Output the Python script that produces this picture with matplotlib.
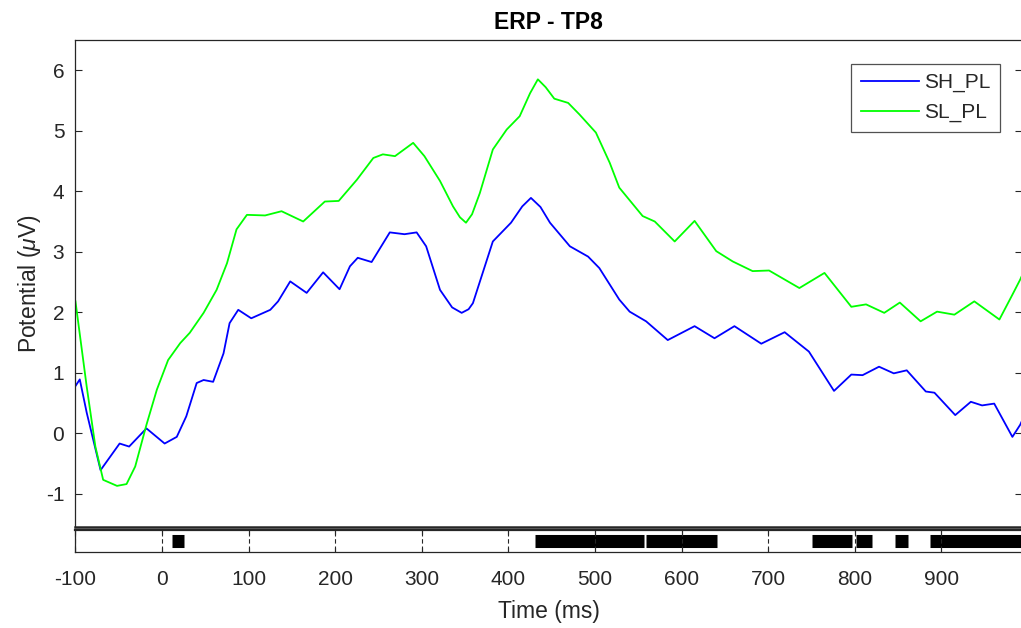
import numpy as np
import matplotlib
matplotlib.use("Agg")
import matplotlib.pyplot as plt

plt.rcParams["font.family"] = ["Liberation Sans", "DejaVu Sans"]
plt.rcParams["mathtext.fontset"] = "custom"
plt.rcParams["mathtext.rm"] = "Liberation Sans"
plt.rcParams["mathtext.it"] = "Liberation Sans:italic"
plt.rcParams["axes.unicode_minus"] = False

# ERP waveforms (time in ms, potential in uV)
t_sh = [-100, -95, -87, -71, -60, -49, -38, -18, 3, 17, 28, 40, 48, 59, 71, 78, 88, 103,
        125, 134, 148, 167, 186, 205, 217, 226, 242, 263, 280, 294, 305, 321, 335, 346, 354,
        359, 382, 403, 416, 426, 437, 448, 471, 492, 505, 528, 540, 559, 584, 615, 638, 661,
        692, 719, 747, 776, 796, 809, 828, 845, 860, 882, 892, 916, 934, 947, 961, 982, 991,
        996]
v_sh = [0.78, 0.89, 0.34, -0.61, -0.39, -0.17, -0.22, 0.08, -0.17, -0.06, 0.28, 0.83, 0.88,
        0.85, 1.32, 1.82, 2.04, 1.90, 2.04, 2.18, 2.51, 2.32, 2.66, 2.38, 2.76, 2.90, 2.83,
        3.32, 3.29, 3.32, 3.09, 2.37, 2.08, 1.99, 2.05, 2.15, 3.17, 3.48, 3.75, 3.89, 3.74,
        3.48, 3.09, 2.92, 2.73, 2.21, 2.01, 1.85, 1.54, 1.77, 1.57, 1.77, 1.48, 1.67, 1.35,
        0.70, 0.97, 0.96, 1.10, 0.99, 1.04, 0.69, 0.67, 0.30, 0.52, 0.46, 0.49, -0.06, 0.14,
        0.30]

t_sl = [-100, -87, -77, -68, -52, -41, -31, -18, -6, 7, 21, 32, 48, 63, 75, 86, 98, 119,
        138, 163, 188, 204, 225, 244, 255, 269, 290, 303, 321, 336, 344, 351, 358, 367, 382,
        398, 413, 425, 434, 443, 453, 469, 482, 501, 517, 528, 555, 569, 592, 615, 640, 659,
        682, 701, 736, 765, 796, 813, 834, 852, 876, 895, 915, 938, 967, 982, 991, 996]
v_sl = [2.18, 0.77, -0.22, -0.77, -0.87, -0.84, -0.55, 0.14, 0.72, 1.21, 1.49, 1.66, 1.99,
        2.37, 2.81, 3.37, 3.61, 3.60, 3.67, 3.50, 3.83, 3.84, 4.19, 4.55, 4.61, 4.58, 4.80,
        4.58, 4.17, 3.75, 3.57, 3.48, 3.62, 3.97, 4.69, 5.02, 5.24, 5.62, 5.85, 5.72, 5.53,
        5.46, 5.27, 4.97, 4.47, 4.06, 3.59, 3.50, 3.17, 3.51, 3.01, 2.84, 2.68, 2.69, 2.40,
        2.65, 2.09, 2.13, 1.99, 2.16, 1.85, 2.01, 1.96, 2.18, 1.88, 2.29, 2.54, 2.70]

# significant time windows (ms)
sig_start = [11, 431, 559, 751, 801, 847, 887]
sig_end = [25, 556, 641, 797, 820, 861, 1000]

xticks = [-100, 0, 100, 200, 300, 400, 500, 600, 700, 800, 900]
yticks = [-1, 0, 1, 2, 3, 4, 5, 6]

txt = "#262626"

fig = plt.figure(figsize=(10.21, 6.28), dpi=100)
ax = fig.add_axes([0.0739, 0.1608, 0.927, 0.7755])
ax2 = fig.add_axes([0.0739, 0.1218, 0.927, 0.035])

ax.plot(t_sh, v_sh, color="#0000ff", lw=1.3, label="SH_PL", solid_joinstyle="round")
ax.plot(t_sl, v_sl, color="#00ff00", lw=1.3, label="SL_PL", solid_joinstyle="round")
ax.set_xlim(-100, 993)
ax.set_ylim(-1.55, 6.5)
ax.set_xticks([])
ax.set_yticks(yticks)
ax.tick_params(axis="y", direction="in", length=5, width=0.8, right=True,
               labelsize=15, labelcolor=txt, pad=8, color=txt)
for s in ax.spines.values():
    s.set_color(txt)
    s.set_linewidth(0.9)
ax.spines["bottom"].set_linewidth(1.8)
ax.set_ylabel(r"Potential ($\mu$V)", fontsize=16.5, color=txt, labelpad=2)
ax.set_title("ERP - TP8", fontsize=16.5, fontweight="bold", pad=8)
leg = ax.legend(loc="upper right", bbox_to_anchor=(0.977, 0.951), fontsize=15,
                frameon=True, fancybox=False, handlelength=2.8, handletextpad=0.25,
                labelspacing=0.5, borderpad=0.45, borderaxespad=0)
leg.get_frame().set_edgecolor(txt)
leg.get_frame().set_linewidth(0.9)
for t in leg.get_texts():
    t.set_color(txt)

ax2.hlines([0.5] * len(sig_start), sig_start, sig_end, color="black", lw=9.4, zorder=2)
ax2.set_xlim(-100, 993)
ax2.set_ylim(0, 1)
ax2.set_yticks([])
ax2.set_xticks(xticks)
ax2.grid(axis="x", color=txt, linestyle=(0, (4, 4)), linewidth=0.8, zorder=3)
ax2.set_axisbelow(False)
ax2.tick_params(axis="x", direction="in", length=4, width=0.8, top=True,
                labelsize=15, labelcolor=txt, pad=13, color=txt)
for s in ax2.spines.values():
    s.set_color(txt)
    s.set_linewidth(0.9)
ax2.spines["top"].set_linewidth(1.6)
ax2.set_xlabel("Time (ms)", fontsize=16.5, color=txt, labelpad=8)

fig.savefig("out.png", dpi=100)
